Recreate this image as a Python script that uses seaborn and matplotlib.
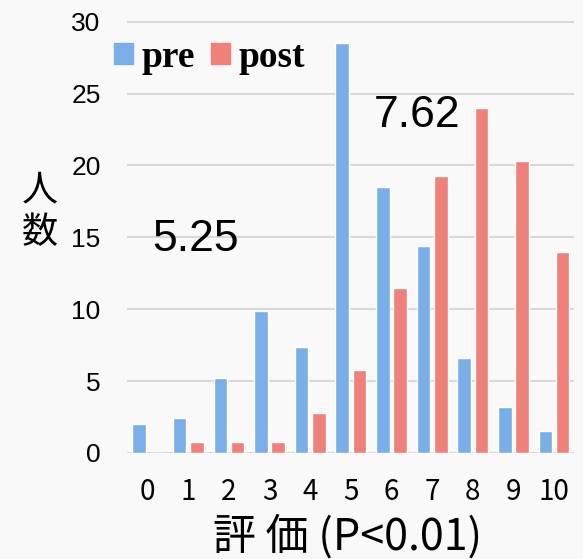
import numpy as np
import pandas as pd
import matplotlib
matplotlib.use('Agg')
import matplotlib.pyplot as plt
import seaborn as sns
from matplotlib.patches import Patch

# 評価ごとの人数 (pre / post)
scores = list(range(11))
pre = [2.0, 2.4, 5.2, 9.9, 7.4, 28.5, 18.5, 14.4, 6.6, 3.2, 1.5]
post = [0.0, 0.75, 0.75, 0.75, 2.8, 5.75, 11.5, 19.3, 24.0, 20.3, 14.0]
means = [5.25, 7.62]
yticks = [0, 5, 10, 15, 20, 25, 30]

df = pd.DataFrame({
    '評価': [str(s) for s in scores] * 2,
    '人数': pre + post,
    '時期': ['pre'] * len(scores) + ['post'] * len(scores),
})

sns.set_style('white')
plt.rcParams['font.family'] = ['Liberation Sans', 'Noto Sans CJK JP', 'DejaVu Sans']
plt.rcParams['text.color'] = 'black'
plt.rcParams['xtick.color'] = 'black'
plt.rcParams['ytick.color'] = 'black'
jp = ['Noto Sans CJK JP', 'DejaVu Sans']

fig = plt.figure(figsize=(5.83, 5.59), dpi=100, facecolor='#f9f9f9')
ax = fig.add_axes([127 / 583, 1 - 453 / 559, (574 - 127) / 583, (453 - 21) / 559])
ax.set_facecolor('none')

pal = {'pre': '#7aaee8', 'post': '#f0807a'}
sns.barplot(data=df, x='評価', y='人数', hue='時期', palette=pal,
            width=0.85, gap=0.22, saturation=1, legend=False, ax=ax)

ax.set_xlim(-0.507, 10.49)
ax.set_ylim(0, 30.05)
ax.set_yticks(yticks)
ax.yaxis.grid(True, color='#d9d9d9', linewidth=1.5)
ax.set_axisbelow(True)
for s in ax.spines.values():
    s.set_visible(False)

ax.tick_params(axis='x', length=0, pad=17, labelsize=20, labelcolor='black')
ax.tick_params(axis='y', length=0, pad=19, labelsize=19, labelcolor='black')
for lab in ax.get_xticklabels():
    lab.set_family(jp)
ax.set_xlabel('')
ax.set_ylabel('')

# 平均値
ax.text(1.19, 14.86, f'{means[0]:.2f}', fontsize=32, ha='center', va='center')
ax.text(6.63, 23.5, f'{means[1]:.2f}', fontsize=32, ha='center', va='center')

fig.text(347.5 / 583, 1 - 537.5 / 559, '評 価 (P<0.01)', fontsize=31,
         family=jp, ha='center', va='center')
fig.text(40 / 583, 1 - 212 / 559, '人\n数', fontsize=26, ha='center',
         va='center', linespacing=1.3)

handles = [Patch(color=pal['pre']), Patch(color=pal['post'])]
fig.legend(handles, ['pre', 'post'], loc='upper left',
           bbox_to_anchor=(114 / 583, 1 - 40 / 559), ncol=2, frameon=False,
           prop={'family': 'Liberation Serif', 'weight': 'bold', 'size': 27},
           handlelength=0.5, handleheight=0.5, handletextpad=0.22,
           columnspacing=0.45, borderpad=0, borderaxespad=0)

fig.savefig('out.png', dpi=100, facecolor=fig.get_facecolor())
